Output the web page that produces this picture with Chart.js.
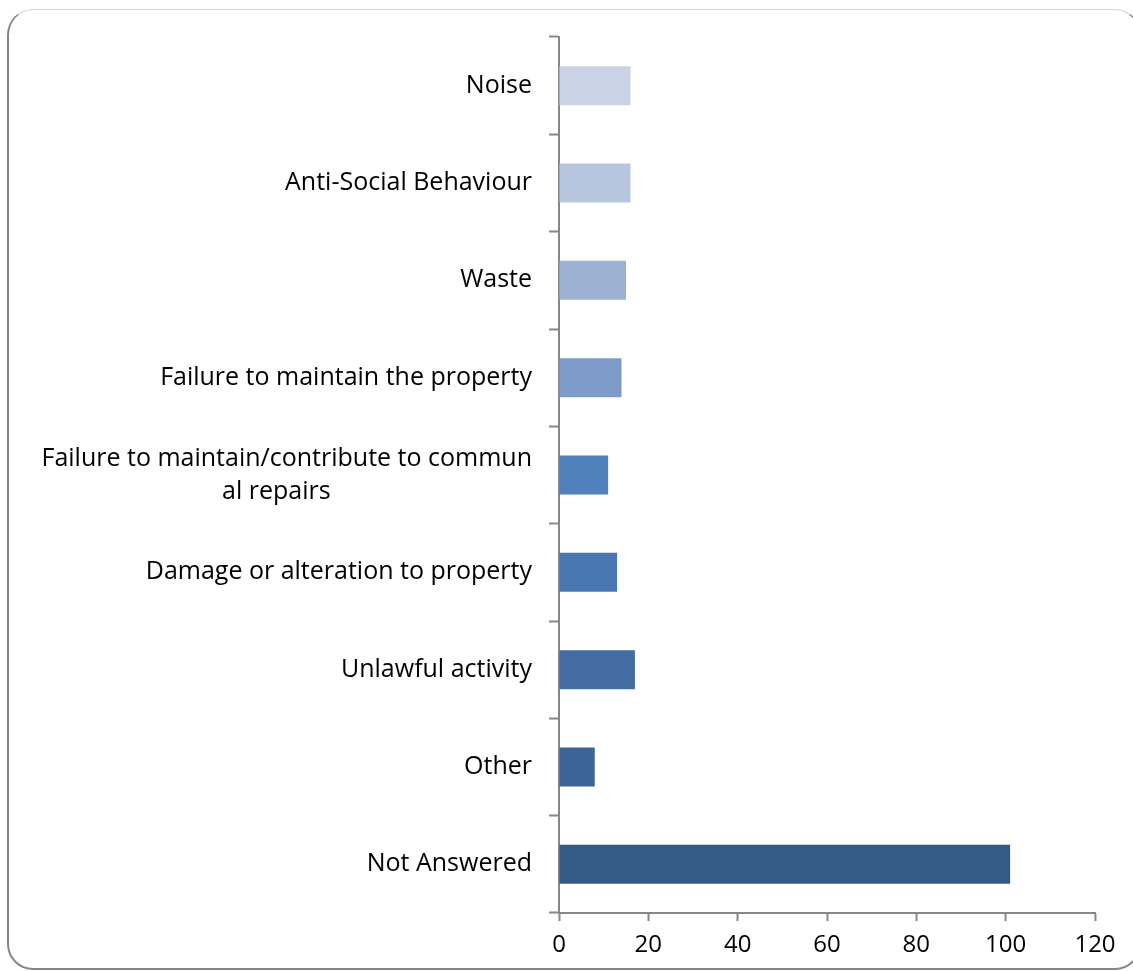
<!DOCTYPE html>
<html>
<head>
<meta charset="utf-8">
<script src="https://cdn.jsdelivr.net/npm/chart.js@4/dist/chart.umd.min.js"></script>
<style>
  html, body { margin: 0; padding: 0; background: #fff; }
  #wrap { position: relative; width: 1133px; height: 971px; overflow: hidden; }
  #frame {
    position: absolute; left: 7px; top: 9px; width: 1134px; height: 961px;
    border: 2px solid #858585; border-top: 1px solid #d9d9d9;
    border-radius: 26px; box-sizing: border-box;
  }
  canvas { position: absolute; left: 0; top: 0; }
</style>
</head>
<body>
<div id="wrap">
  <div id="frame"></div>
  <canvas id="chart" width="1133" height="971"></canvas>
</div>
<script>
const pad = '\u00a0'.repeat(31);

const categories = [
  'Noise',
  'Anti-Social Behaviour',
  'Waste',
  'Failure to maintain the property',
  ['Failure to maintain/contribute to commun', 'al repairs' + pad],
  'Damage or alteration to property',
  'Unlawful activity',
  'Other',
  'Not Answered'
];

const counts = [16, 16, 15, 14, 11, 13, 17, 8, 101];

const barColors = [
  '#c9d3e5', '#b7c5de', '#9db1d3', '#7f9cc9', '#4f81bd',
  '#4a77b1', '#436da2', '#3d6496', '#355a84'
];

const xTicks = [0, 20, 40, 60, 80, 100, 120];

const axisGrey = '#878787';
const labelFont = { family: 'Open Sans', size: 25, lineHeight: 1.32 };

const ctx = document.getElementById('chart').getContext('2d');

new Chart(ctx, {
  type: 'bar',
  data: {
    labels: categories,
    datasets: [{
      data: counts,
      backgroundColor: barColors,
      borderWidth: 0,
      categoryPercentage: 1,
      barPercentage: 0.4
    }]
  },
  options: {
    indexAxis: 'y',
    responsive: false,
    animation: false,
    layout: { padding: { left: 10, right: 38, top: 37, bottom: 10 } },
    plugins: {
      legend: { display: false },
      tooltip: { enabled: false }
    },
    scales: {
      x: {
        min: xTicks[0],
        max: xTicks[xTicks.length - 1],
        afterBuildTicks: (scale) => {
          scale.ticks = xTicks.map(v => ({ value: v }));
        },
        grid: {
          drawOnChartArea: false,
          drawTicks: true,
          tickLength: 8,
          tickWidth: 2,
          color: axisGrey
        },
        border: { color: axisGrey, width: 2 },
        ticks: {
          color: '#000',
          font: { family: 'Open Sans', size: 24 },
          padding: 10,
          maxRotation: 0
        },
        afterFit: (scale) => { scale.height = 48; }
      },
      y: {
        grid: {
          drawOnChartArea: false,
          drawTicks: true,
          tickLength: 10,
          tickWidth: 2,
          color: axisGrey
        },
        border: { color: axisGrey, width: 2 },
        ticks: {
          color: '#000',
          font: labelFont,
          padding: 17,
          autoSkip: false
        },
        afterFit: (scale) => { scale.width = 549; }
      }
    }
  }
});
</script>
</body>
</html>
